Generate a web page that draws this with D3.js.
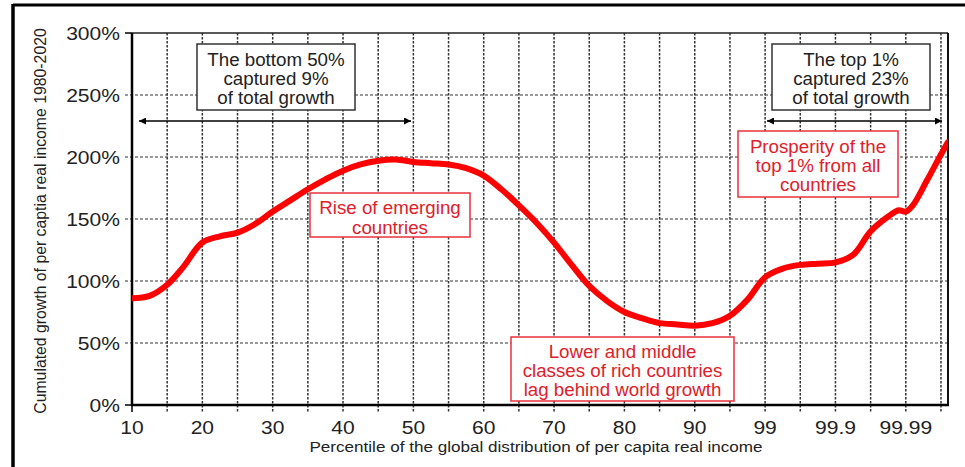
<!DOCTYPE html>
<html>
<head>
<meta charset="utf-8">
<script src="https://cdn.jsdelivr.net/npm/d3@7"></script>
<style>
  html, body { margin: 0; padding: 0; background: #fff; }
  svg { display: block; }
  text { font-family: "Liberation Sans", Arial, sans-serif; }
</style>
</head>
<body>
<svg id="chart" width="965" height="467"></svg>
<script>
// ---- data ----
// x positions are expressed in "slots" of the non-linear percentile axis
// (slot 0 = P10, each slot = 5 percentiles up to P95, then 99, 99.5, 99.9, 99.95, 99.99, 99.995)
const slotNames = ["10","15","20","25","30","35","40","45","50","55","60","65","70","75","80","85","90","95","99","99.5","99.9","99.95","99.99","99.995"];
const xTickLabels = ["10","20","30","40","50","60","70","80","90","99","99.9","99.99"];
const yTickValues = [0, 50, 100, 150, 200, 250, 300];

const curveSlot   = [0, 0.5, 1.0, 1.45, 2.0, 2.5, 3.0, 3.5, 4.0, 4.5, 5.0, 5.5, 6.0, 6.5, 7.0, 7.5, 8.0, 8.5, 9.0, 9.5, 10.0, 10.5, 11.0, 11.5, 12.0, 12.5, 13.0, 13.5, 14.0, 14.5, 15.0, 15.5, 16.0, 16.5, 17.0, 17.5, 18.0, 18.5, 19.0, 19.5, 20.0, 20.5, 21.0, 21.5, 21.8, 22.0, 22.2, 22.6, 23.0, 23.2];
const curveGrowth = [86, 88, 97, 111, 131, 136, 139, 146, 156, 165, 174, 182, 189, 194, 197, 198, 196, 195, 194, 191, 185, 174, 161, 147, 131, 113, 96, 84, 75, 70, 66, 65, 64, 66, 72, 85, 103, 110, 113, 114, 115, 121, 140, 152, 157, 156, 161, 181, 202, 212];

// ---- layout ----
const svg = d3.select("#chart");
const L = 132, R = 948, T = 33, B = 405;
const x = d3.scaleLinear().domain([0, 23.2]).range([L, R]);
const y = d3.scaleLinear().domain([0, 300]).range([B, T]);
const FONT_COLOR = "#222";

// helper: text horizontally stretched like the reference image
function stext(px, py, str, size, anchor, color, sx) {
  return svg.append("text")
    .attr("transform", `translate(${px},${py}) scale(${sx},1)`)
    .attr("text-anchor", anchor).attr("font-size", size).attr("fill", color)
    .text(str);
}

// outer frame
svg.append("line").attr("x1", 13).attr("x2", 965).attr("y1", 5).attr("y2", 5)
  .attr("stroke", "#000").attr("stroke-width", 3);
svg.append("line").attr("x1", 13).attr("x2", 13).attr("y1", 4).attr("y2", 467)
  .attr("stroke", "#000").attr("stroke-width", 3.5);

// horizontal grid (dashed) with left tick extension
const g = svg.append("g");
g.selectAll("line.hg").data(yTickValues.filter(v => v > 0 && v < 300)).enter()
  .append("line")
  .attr("x1", L - 7).attr("x2", R)
  .attr("y1", d => y(d)).attr("y2", d => y(d))
  .attr("stroke", "#333").attr("stroke-width", 1.2)
  .attr("stroke-dasharray", "3,2");

// vertical grid (dashed) with tick extension below axis
const slots = d3.range(slotNames.length);
g.selectAll("line.vg").data(slots.filter(s => s > 0)).enter()
  .append("line")
  .attr("x1", d => x(d)).attr("x2", d => x(d))
  .attr("y1", T).attr("y2", B + 7)
  .attr("stroke", "#333").attr("stroke-width", 1.5)
  .attr("stroke-dasharray", "2.5,1.5");

// y ticks for 0 and 300
g.selectAll("line.yt").data([0, 300]).enter().append("line")
  .attr("x1", L - 7).attr("x2", L).attr("y1", d => y(d)).attr("y2", d => y(d))
  .attr("stroke", "#000").attr("stroke-width", 1.5);
g.append("line").attr("x1", L).attr("x2", L).attr("y1", B).attr("y2", B + 7)
  .attr("stroke", "#000").attr("stroke-width", 1.5);

// plot border
svg.append("line").attr("x1", L).attr("x2", R).attr("y1", T).attr("y2", T)
  .attr("stroke", "#222").attr("stroke-width", 1.5);
svg.append("line").attr("x1", R).attr("x2", R).attr("y1", T).attr("y2", B)
  .attr("stroke", "#111").attr("stroke-width", 2);
svg.append("line").attr("x1", L).attr("x2", L).attr("y1", T).attr("y2", B + 1)
  .attr("stroke", "#000").attr("stroke-width", 2.5);
svg.append("line").attr("x1", L - 1).attr("x2", R + 1).attr("y1", B).attr("y2", B)
  .attr("stroke", "#000").attr("stroke-width", 2.5);

// y tick labels
yTickValues.forEach(v => stext(L - 12, y(v) + 6.5, v + "%", 18, "end", FONT_COLOR, 1.17));

// x tick labels
xTickLabels.forEach((t, i) => stext(x(i * 2), 434, t, 18, "middle", FONT_COLOR, 1.17));

// axis titles
stext(536, 452, "Percentile of the global distribution of per capita real  income", 15, "middle", FONT_COLOR, 1.14);
svg.append("text").attr("transform", "translate(46,221) rotate(-90)")
  .attr("text-anchor", "middle").attr("font-size", 15.8).attr("fill", FONT_COLOR)
  .text("Cumulated growth of per captia real income 1980-2020");

// curve
svg.append("clipPath").attr("id", "clip").append("rect")
  .attr("x", L).attr("y", T - 5).attr("width", R - L).attr("height", B - T + 5);
const line = d3.line().x((d, i) => x(curveSlot[i])).y(d => y(d)).curve(d3.curveCatmullRom.alpha(0.5));
svg.append("path").datum(curveGrowth).attr("d", line)
  .attr("clip-path", "url(#clip)")
  .attr("fill", "none").attr("stroke", "#ff0000").attr("stroke-width", 6)
  .attr("stroke-linejoin", "round").attr("stroke-linecap", "round");

// arrows
const defs = svg.append("defs");
defs.append("marker").attr("id", "ah").attr("viewBox", "0 0 10 10")
  .attr("refX", 10).attr("refY", 5).attr("markerWidth", 9).attr("markerHeight", 7)
  .attr("markerUnits", "userSpaceOnUse").attr("orient", "auto-start-reverse")
  .append("path").attr("d", "M0,0 L10,5 L0,10 z").attr("fill", "#000");
function arrow(x1, x2, yy) {
  svg.append("line").attr("x1", x1).attr("x2", x2).attr("y1", yy).attr("y2", yy)
    .attr("stroke", "#000").attr("stroke-width", 1.5)
    .attr("marker-start", "url(#ah)").attr("marker-end", "url(#ah)");
}
arrow(139, 411, 121);
arrow(767, 942, 121);

// annotation boxes
function box(x0, y0, w, h, lines, color, lineYs) {
  svg.append("rect").attr("x", x0).attr("y", y0).attr("width", w).attr("height", h)
    .attr("fill", "#fff").attr("stroke", color === "black" ? "#333" : "#e8323c")
    .attr("stroke-width", 1.5);
  lines.forEach((t, i) => {
    stext(x0 + w / 2, lineYs[i], t, 17.5, "middle", color === "black" ? "#222" : "#e0202a", 1.07);
  });
}
box(197, 44, 158, 66, ["The bottom 50%", "captured 9%", "of total growth"], "black", [66, 85, 104]);
box(772, 44, 158, 66, ["The top 1%", "captured 23%", "of total growth"], "black", [66, 85, 104]);
box(738, 131, 160, 66, ["Prosperity of the", "top 1% from all", "countries"], "red", [153, 172, 191]);
box(310, 193, 160, 44, ["Rise of emerging", "countries"], "red", [214, 234]);
box(511, 337, 223, 64, ["Lower and middle", "classes of rich countries", "lag behind world growth"], "red", [358, 377, 396]);
</script>
</body>
</html>
